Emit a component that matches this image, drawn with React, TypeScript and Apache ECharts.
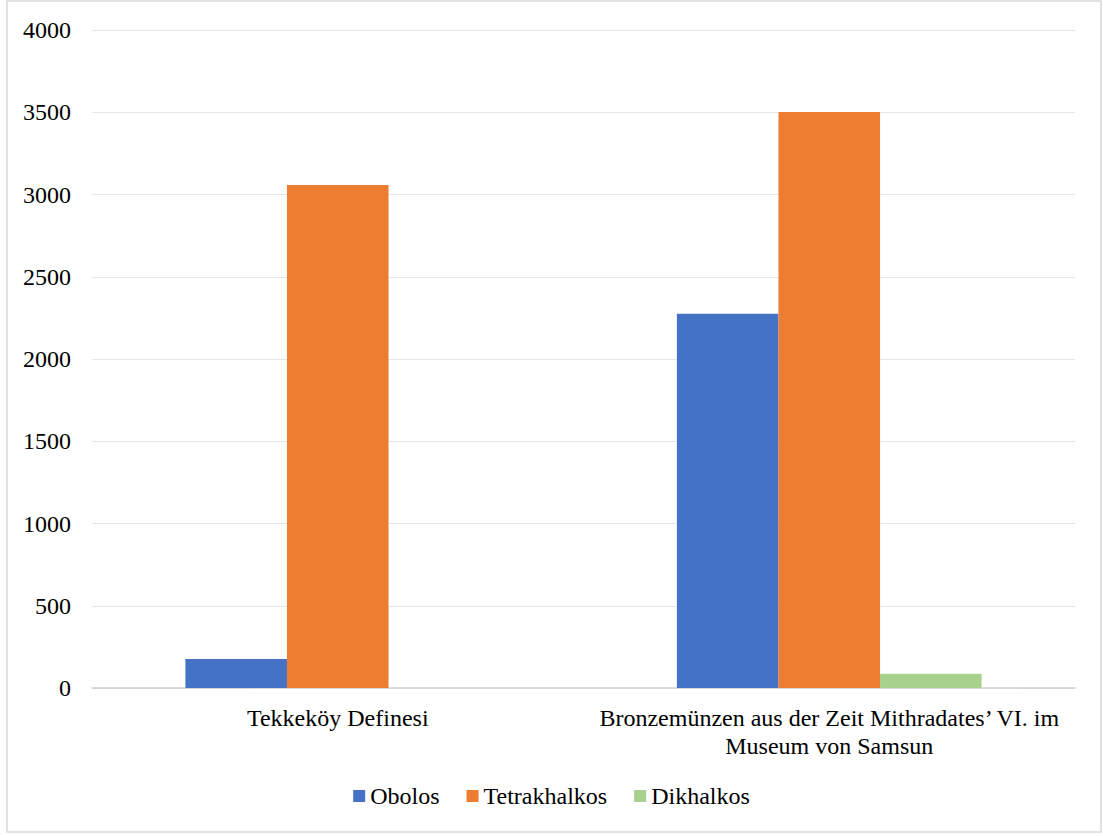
import React, { useEffect, useRef } from "react";
import * as echarts from "echarts";

const categories = [
  "Tekkeköy Definesi",
  "Bronzemünzen aus der Zeit Mithradates’ VI. im\nMuseum von Samsun",
];
const seriesNames = ["Obolos", "Tetrakhalkos", "Dikhalkos"];
const obolos = [176, 2275];
const tetrakhalkos = [3058, 3502];
const dikhalkos = [0, 87];
const colors = ["#4472C4", "#ED7D31", "#A9D18E"];

export default function App() {
  const ref = useRef<HTMLDivElement>(null);
  useEffect(() => {
    if (!ref.current) return;
    const chart = echarts.init(ref.current, undefined, { renderer: "svg" });
    const font = "Times New Roman, Liberation Serif, serif";
    const data = [obolos, tetrakhalkos, dikhalkos];
    chart.setOption({
      animation: false,
      textStyle: { fontFamily: font },
      graphic: [
        {
          type: "rect",
          shape: { x: 7, y: 1, width: 1094, height: 831 },
          style: { fill: "none", stroke: "#d9d9d9", lineWidth: 1.5 },
          silent: true,
        },
      ],
      grid: { left: 92, right: 28, top: 30, bottom: 148, containLabel: false },
      legend: {
        data: seriesNames,
        bottom: 23,
        left: "center",
        itemWidth: 12,
        itemHeight: 12,
        itemGap: 27,
        icon: "rect",
        textStyle: { fontFamily: font, fontSize: 24, color: "#000" },
      },
      xAxis: {
        type: "category",
        data: categories,
        axisLine: { lineStyle: { color: "#d0d0d0", width: 1.5 } },
        axisTick: { show: false },
        axisLabel: {
          fontFamily: font,
          fontSize: 24,
          color: "#000",
          margin: 16,
          lineHeight: 28,
          interval: 0,
        },
      },
      yAxis: {
        type: "value",
        min: 0,
        max: 4000,
        interval: 500,
        axisLine: { show: false },
        axisTick: { show: false },
        splitLine: { lineStyle: { color: "#e6e6e6", width: 1.2 } },
        axisLabel: {
          fontFamily: font,
          fontSize: 24,
          color: "#000",
          margin: 21,
          formatter: (v: number) => String(v),
        },
      },
      series: seriesNames.map((name, i) => ({
        name,
        type: "bar",
        data: data[i],
        barGap: "0%",
        barCategoryGap: "38%",
        itemStyle: { color: colors[i] },
      })),
    });
    return () => chart.dispose();
  }, []);
  return (
    <div
      ref={ref}
      style={{ position: "fixed", left: 0, top: 0, width: 1103, height: 836, background: "#fff" }}
    />
  );
}
